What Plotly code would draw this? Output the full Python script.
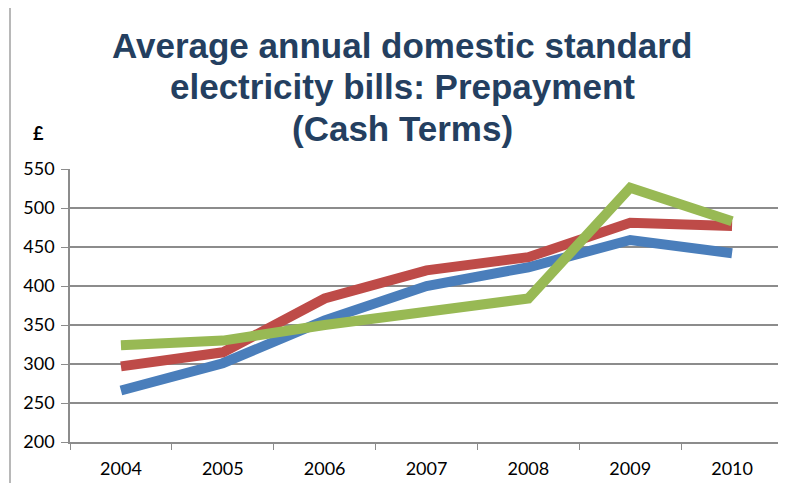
import plotly.graph_objects as go

years = ["2004", "2005", "2006", "2007", "2008", "2009", "2010"]
blue_vals = [266, 301, 356, 400, 424, 459, 442]
red_vals = [297, 315, 384, 420, 437, 481, 477]
green_vals = [324, 330, 350, 366, 384, 526, 483]
y_ticks = [200, 250, 300, 350, 400, 450, 500, 550]
title_lines = ["Average annual domestic standard", "electricity bills: Prepayment", "(Cash Terms)"]

fig = go.Figure()
for vals, col in [(blue_vals, "#4A7EBB"), (red_vals, "#BE4B48"), (green_vals, "#98B954")]:
    fig.add_trace(go.Scatter(x=years, y=vals, mode="lines",
                             line=dict(color=col, width=10), showlegend=False,
                             hoverinfo="skip"))

grid = "#8c8c8c"
OFF = 8  # page body margin
W, H = 778, 475
L, R, T, B = 70 - OFF, 3, 169 - OFF, 41
pw, ph = W - L - R, H - T - B

def px(x):
    return (x - OFF - L) / pw

def py(y):
    return (H - B - (y - OFF)) / ph

fig.update_layout(
    width=W, height=H,
    margin=dict(l=L, r=R, t=T, b=B, autoexpand=False),
    paper_bgcolor="white", plot_bgcolor="white",
    font=dict(family="Lato, Carlito, sans-serif", size=18, color="black"),
)
fig.update_xaxes(type="category", tickson="boundaries", ticks="outside", ticklen=6,
                 tickcolor=grid, showline=True, linecolor=grid, linewidth=1.5,
                 showgrid=False, tickfont=dict(size=18), range=[-0.5, 6.5],
                 ticklabelstandoff=10, automargin=False)
fig.update_yaxes(range=[200, 550], tickvals=y_ticks, ticks="outside", ticklen=7,
                 tickcolor=grid, showline=True, linecolor=grid, linewidth=1.5,
                 showgrid=True, gridcolor=grid, gridwidth=1.5, zeroline=False,
                 tickfont=dict(size=18), ticklabelstandoff=3, automargin=False)

for line, yc in zip(title_lines, [45, 87, 128]):
    fig.add_annotation(text="<b>%s</b>" % line, xref="paper", yref="paper",
                       x=px(402), y=py(yc), xanchor="center", yanchor="middle",
                       showarrow=False,
                       font=dict(family="Liberation Sans, Arial", size=35, color="#243F60"))

fig.add_annotation(text="<b>£</b>", xref="paper", yref="paper", x=px(38), y=py(133),
                   xanchor="center", yanchor="middle",
                   showarrow=False, font=dict(size=18, family="Lato, sans-serif"))
fig.add_shape(type="line", xref="paper", yref="paper", x0=px(10), x1=px(10),
              y0=py(491), y1=py(0), line=dict(color="#a0a0a0", width=1.5))

fig.write_html("out.html")
